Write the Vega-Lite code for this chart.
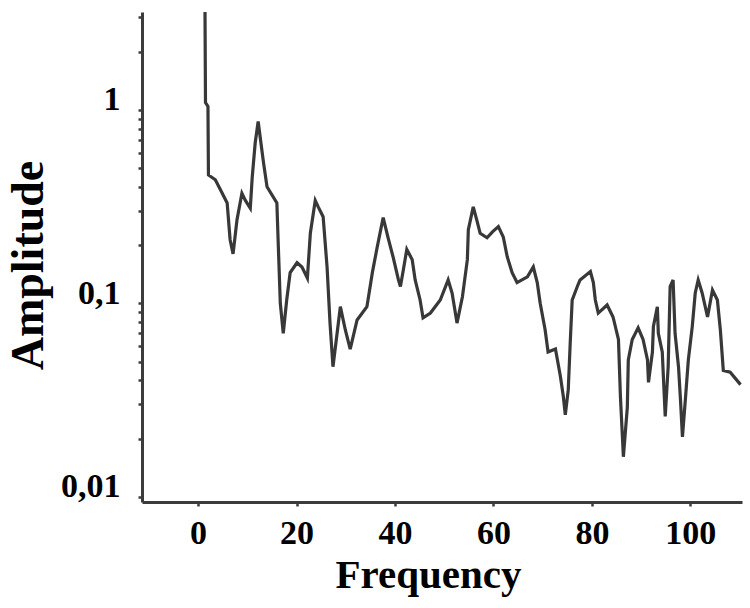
{
  "$schema": "https://vega.github.io/schema/vega-lite/v6.json",
  "width": 600,
  "height": 490,
  "autosize": {"type": "none"},
  "padding": {"left": 142, "top": 12, "right": 8, "bottom": 106},
  "background": "white",
  "config": {
    "view": {"stroke": null},
    "axis": {
      "grid": false,
      "domainColor": "#3c3c3c",
      "domainWidth": 3,
      "tickColor": "#3c3c3c",
      "tickWidth": 2.5,
      "tickSize": 4,
      "labelFont": "Liberation Serif",
      "labelFontWeight": "bold",
      "labelFontSize": 34,
      "labelColor": "black",
      "labelOverlap": false,
      "labelFlush": false,
      "labelBound": false,
      "titleFont": "Liberation Serif",
      "titleFontWeight": "bold",
      "titleColor": "black"
    }
  },
  "data": {
    "values": [
      {"f": 1.4, "a": 3.2}, {"f": 1.5, "a": 1.09}, {"f": 2, "a": 1.04}, {"f": 2.1, "a": 0.46},
      {"f": 3.5, "a": 0.435}, {"f": 4.9, "a": 0.37}, {"f": 5.9, "a": 0.33}, {"f": 6.5, "a": 0.213},
      {"f": 7.1, "a": 0.18}, {"f": 7.9, "a": 0.27}, {"f": 8.9, "a": 0.37}, {"f": 9.6, "a": 0.34},
      {"f": 10.6, "a": 0.31}, {"f": 11, "a": 0.45}, {"f": 11.6, "a": 0.675}, {"f": 12.2, "a": 0.87},
      {"f": 12.6, "a": 0.725}, {"f": 13.3, "a": 0.53}, {"f": 14, "a": 0.4}, {"f": 16, "a": 0.33},
      {"f": 16.3, "a": 0.196}, {"f": 16.7, "a": 0.1}, {"f": 17.3, "a": 0.07}, {"f": 18, "a": 0.104},
      {"f": 18.7, "a": 0.144}, {"f": 20.1, "a": 0.162}, {"f": 21.1, "a": 0.154}, {"f": 22.2, "a": 0.135},
      {"f": 22.8, "a": 0.23}, {"f": 23.8, "a": 0.34}, {"f": 24.4, "a": 0.315}, {"f": 25.4, "a": 0.28},
      {"f": 26.2, "a": 0.154}, {"f": 26.8, "a": 0.079}, {"f": 27.4, "a": 0.047}, {"f": 28.9, "a": 0.096},
      {"f": 29.9, "a": 0.073}, {"f": 30.9, "a": 0.058}, {"f": 32.3, "a": 0.082}, {"f": 34.3, "a": 0.096},
      {"f": 35.4, "a": 0.144}, {"f": 36.4, "a": 0.196}, {"f": 37.6, "a": 0.277}, {"f": 38.6, "a": 0.218},
      {"f": 39.6, "a": 0.174}, {"f": 40.7, "a": 0.132}, {"f": 41.1, "a": 0.122}, {"f": 41.7, "a": 0.149},
      {"f": 42.4, "a": 0.19}, {"f": 43.5, "a": 0.168}, {"f": 44.1, "a": 0.132}, {"f": 45.1, "a": 0.104},
      {"f": 45.7, "a": 0.084}, {"f": 47.2, "a": 0.089}, {"f": 49.2, "a": 0.104}, {"f": 50.8, "a": 0.132},
      {"f": 51.6, "a": 0.113}, {"f": 52.6, "a": 0.079}, {"f": 53.7, "a": 0.108}, {"f": 54.7, "a": 0.168},
      {"f": 54.9, "a": 0.24}, {"f": 55.9, "a": 0.315}, {"f": 56.7, "a": 0.264}, {"f": 57.3, "a": 0.23},
      {"f": 58.7, "a": 0.218}, {"f": 59.8, "a": 0.234}, {"f": 61, "a": 0.249}, {"f": 62, "a": 0.22},
      {"f": 62.8, "a": 0.174}, {"f": 63.8, "a": 0.144}, {"f": 64.8, "a": 0.128}, {"f": 66.9, "a": 0.137},
      {"f": 68.1, "a": 0.154}, {"f": 68.9, "a": 0.128}, {"f": 69.5, "a": 0.1}, {"f": 70.5, "a": 0.073},
      {"f": 71.1, "a": 0.056}, {"f": 72.6, "a": 0.058}, {"f": 73.6, "a": 0.042}, {"f": 74.2, "a": 0.033},
      {"f": 74.6, "a": 0.0265}, {"f": 75.2, "a": 0.0357}, {"f": 75.6, "a": 0.0625}, {"f": 76, "a": 0.104},
      {"f": 77.2, "a": 0.125}, {"f": 77.6, "a": 0.132}, {"f": 79.7, "a": 0.146}, {"f": 80.3, "a": 0.128},
      {"f": 80.7, "a": 0.104}, {"f": 81.3, "a": 0.089}, {"f": 83.1, "a": 0.098}, {"f": 84.3, "a": 0.085},
      {"f": 85.4, "a": 0.065}, {"f": 85.8, "a": 0.033}, {"f": 86.4, "a": 0.0161}, {"f": 87.2, "a": 0.029},
      {"f": 87.4, "a": 0.051}, {"f": 88.2, "a": 0.065}, {"f": 89.4, "a": 0.0747}, {"f": 90.4, "a": 0.065},
      {"f": 91.3, "a": 0.051}, {"f": 91.5, "a": 0.039}, {"f": 92.3, "a": 0.056}, {"f": 92.5, "a": 0.076},
      {"f": 93.3, "a": 0.096}, {"f": 93.5, "a": 0.07}, {"f": 94.3, "a": 0.056}, {"f": 94.9, "a": 0.026},
      {"f": 95.5, "a": 0.047}, {"f": 95.9, "a": 0.122}, {"f": 96.5, "a": 0.132}, {"f": 96.9, "a": 0.07},
      {"f": 97.6, "a": 0.047}, {"f": 98, "a": 0.0318}, {"f": 98.4, "a": 0.0204}, {"f": 99, "a": 0.032},
      {"f": 99.6, "a": 0.051}, {"f": 100.4, "a": 0.076}, {"f": 101, "a": 0.113}, {"f": 101.6, "a": 0.132},
      {"f": 102.4, "a": 0.113}, {"f": 103.5, "a": 0.085}, {"f": 104.5, "a": 0.117}, {"f": 105.5, "a": 0.104},
      {"f": 106.1, "a": 0.073}, {"f": 106.7, "a": 0.045}, {"f": 108.1, "a": 0.044}, {"f": 110.2, "a": 0.038}
    ]
  },
  "mark": {"type": "line", "color": "#383838", "strokeWidth": 3.2, "clip": true},
  "encoding": {
    "x": {
      "field": "f",
      "type": "quantitative",
      "scale": {"domain": [-11.4, 110.5], "nice": false, "zero": false},
      "axis": {
        "values": [0, 20, 40, 60, 80, 100],
        "title": "Frequency",
        "titleFontSize": 41,
        "titleX": 286,
        "titleY": 85,
        "titleAlign": "center",
        "titleBaseline": "alphabetic",
        "labelBaseline": "alphabetic",
        "labelPadding": 37
      }
    },
    "y": {
      "field": "a",
      "type": "quantitative",
      "scale": {"type": "log", "domain": [0.0094, 3.2], "nice": false},
      "axis": {
        "values": [0.01, 0.02, 0.03, 0.04, 0.05, 0.06, 0.07, 0.08, 0.09, 0.1, 0.2, 0.3, 0.4, 0.5, 0.6, 0.7, 0.8, 0.9, 1, 2, 3],
        "labelExpr": "datum.value == 1 ? '1' : datum.value == 0.1 ? '0,1' : datum.value == 0.01 ? '0,01' : ''",
        "labelBaseline": "alphabetic",
        "labelPadding": 18,
        "title": "Amplitude",
        "titleFontSize": 46,
        "titleAngle": -90,
        "titleX": -100,
        "titleY": 253,
        "titleAlign": "center",
        "titleBaseline": "alphabetic"
      }
    }
  }
}
